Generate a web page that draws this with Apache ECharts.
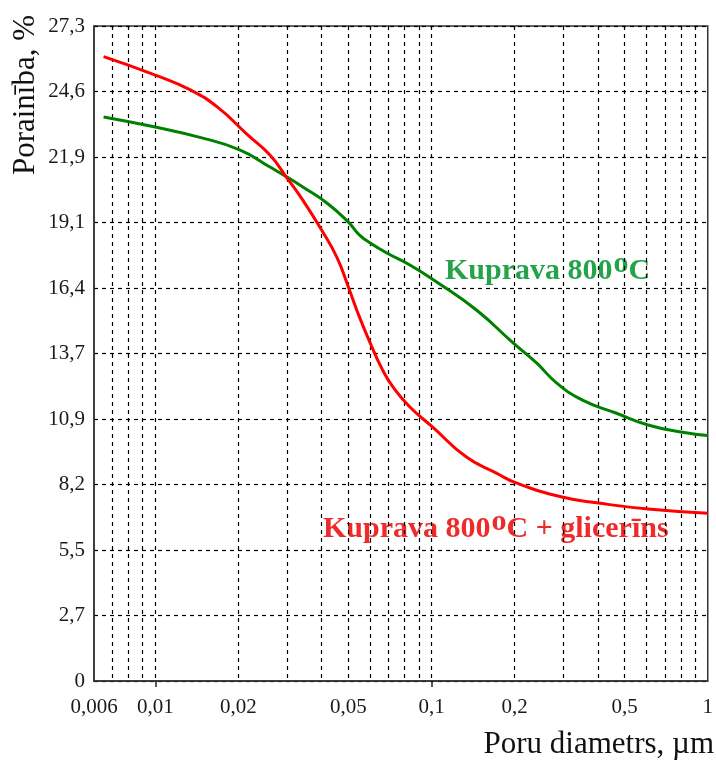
<!DOCTYPE html>
<html>
<head>
<meta charset="utf-8">
<script src="https://cdn.jsdelivr.net/npm/echarts@6/dist/echarts.min.js"></script>
<style>
  html, body { margin: 0; padding: 0; background: #fff; }
  #chart { width: 716px; height: 760px; }
</style>
</head>
<body>
<div id="chart"></div>
<script>
// Porosity vs. pore diameter, two ceramic bodies
const poreDiameterPlain = [0.0065, 0.01, 0.0145, 0.0203, 0.026, 0.03, 0.0342, 0.0418, 0.05, 0.0549, 0.06, 0.0689, 0.0835, 0.1044, 0.1454, 0.196, 0.24, 0.284, 0.352, 0.465, 0.608, 0.80, 1.0];
const porosityPlain     = [23.55, 23.13, 22.7, 22.17, 21.46, 21.04, 20.63, 19.96, 19.16, 18.62, 18.29, 17.87, 17.37, 16.66, 15.49, 14.15, 13.28, 12.44, 11.73, 11.19, 10.69, 10.4, 10.25];

const poreDiameterGlycerin = [0.0065, 0.01, 0.0134, 0.0168, 0.0216, 0.026, 0.03, 0.0342, 0.04, 0.0454, 0.05, 0.0541, 0.06, 0.0665, 0.0725, 0.0835, 0.101, 0.1338, 0.1717, 0.2025, 0.297, 0.402, 0.608, 1.0];
const porosityGlycerin     = [26.07, 25.3, 24.68, 23.96, 22.8, 21.96, 21.0, 20.08, 18.83, 17.7, 16.45, 15.37, 14.11, 12.99, 12.28, 11.44, 10.6, 9.35, 8.68, 8.27, 7.68, 7.43, 7.18, 7.0];

// Axis ticks
const xLabelValues = [0.006, 0.01, 0.02, 0.05, 0.1, 0.2, 0.5, 1];
const xLabelTexts  = ['0,006', '0,01', '0,02', '0,05', '0,1', '0,2', '0,5', '1'];
const xGridValues  = [0.007, 0.008, 0.009, 0.01, 0.02, 0.03, 0.04, 0.05, 0.06, 0.07, 0.08, 0.09,
                      0.1, 0.2, 0.3, 0.4, 0.5, 0.6, 0.7, 0.8, 0.9];
const xMarkValues  = [0.01, 0.1];
const yTickLabels  = ['0', '2,7', '5,5', '8,2', '10,9', '13,7', '16,4', '19,1', '21,9', '24,6', '27,3'];
const yStep = 2.735;
const yMax = yStep * 10;

const seriesNames = ['Kuprava 800\u00B0C', 'Kuprava 800\u00B0C + glicer\u012Bns'];

const SERIF = '"Liberation Serif", "DejaVu Serif", serif';
const GREEN = '#008000';
const RED = '#ff0000';

const chart = echarts.init(document.getElementById('chart'), null, { renderer: 'canvas' });

function pair(xs, ys) { return xs.map((x, i) => [x, ys[i]]); }

function xLabelFor(v) {
  let best = 0, bestD = Infinity;
  xLabelValues.forEach((lv, i) => {
    const d = Math.abs(Math.log10(v) - Math.log10(lv));
    if (d < bestD) { bestD = d; best = i; }
  });
  return bestD < 0.01 ? xLabelTexts[best] : '';
}

// text measurement for the raised "o" in the curve captions
const measureCtx = document.createElement('canvas').getContext('2d');
function textWidth(str, font) { measureCtx.font = font; return measureCtx.measureText(str).width; }

function caption(x, y, before, after, color) {
  const font = 'bold 30px ' + SERIF;
  const w1 = textWidth(before, font);
  const w2 = textWidth('o', font);
  const common = { font: font, fill: color, verticalAlign: 'middle', textAlign: 'left' };
  return [
    { type: 'text', x: x, y: y, style: Object.assign({ text: before }, common) },
    { type: 'text', x: x + w1 + 1, y: y - 7, style: Object.assign({ text: 'o' }, common) },
    { type: 'text', x: x + w1 + w2 + 1, y: y, style: Object.assign({ text: after }, common) }
  ];
}

const option = {
  animation: false,
  backgroundColor: '#fff',
  grid: {
    left: 94, right: 8, top: 26, bottom: 79,
    show: true, borderColor: '#333', borderWidth: 1.5, backgroundColor: 'transparent'
  },
  xAxis: [
    {
      type: 'log', logBase: 10, min: 0.006, max: 1,
      axisLine: { show: true, onZero: false, lineStyle: { color: '#333', width: 1.5 } },
      axisTick: { show: false, customValues: xGridValues },
      axisLabel: {
        customValues: xLabelValues,
        formatter: xLabelFor,
        fontFamily: SERIF, fontSize: 21, color: '#1a1a1a', margin: 16
      },
      splitLine: { show: true, lineStyle: { color: '#000', width: 1.2, type: [4, 4] } }
    },
    {
      type: 'log', logBase: 10, min: 0.006, max: 1, position: 'bottom',
      axisLine: { show: false },
      axisTick: { show: true, customValues: xMarkValues, length: 6, lineStyle: { color: '#222', width: 1.5 } },
      axisLabel: { show: false },
      splitLine: { show: false }
    }
  ],
  yAxis: {
    type: 'value', min: 0, max: yMax, interval: yStep,
    axisLine: { show: true, lineStyle: { color: '#333', width: 1.5 } },
    axisTick: { show: false },
    axisLabel: {
      formatter: v => yTickLabels[Math.round(v / yStep)] || '',
      fontFamily: SERIF, fontSize: 21, color: '#1a1a1a', margin: 9
    },
    splitLine: { show: true, lineStyle: { color: '#000', width: 1.2, type: [4, 4] } }
  },
  series: [
    {
      name: seriesNames[0], type: 'line', xAxisIndex: 0,
      data: pair(poreDiameterPlain, porosityPlain),
      showSymbol: false, smooth: 0.5,
      lineStyle: { color: GREEN, width: 3 }, z: 5
    },
    {
      name: seriesNames[1], type: 'line', xAxisIndex: 0,
      data: pair(poreDiameterGlycerin, porosityGlycerin),
      showSymbol: false, smooth: 0.5,
      lineStyle: { color: RED, width: 3 }, z: 6
    }
  ],
  graphic: [
    {
      type: 'text', x: 26, y: 95, rotation: Math.PI / 2,
      style: { text: 'Porain\u012Bba, %', font: '31px ' + SERIF, fill: '#111', textAlign: 'center', verticalAlign: 'middle' }
    },
    {
      type: 'text', x: 714, y: 745,
      style: { text: 'Poru diametrs, \u00B5m', font: '31px ' + SERIF, fill: '#111', textAlign: 'right', verticalAlign: 'middle' }
    }
  ]
    .concat(caption(445, 271, 'Kuprava 800', 'C', '#25a34a'))
    .concat(caption(323, 529, 'Kuprava 800', 'C + glicer\u012Bns', '#ef2a2a'))
};

chart.setOption(option);
</script>
</body>
</html>
